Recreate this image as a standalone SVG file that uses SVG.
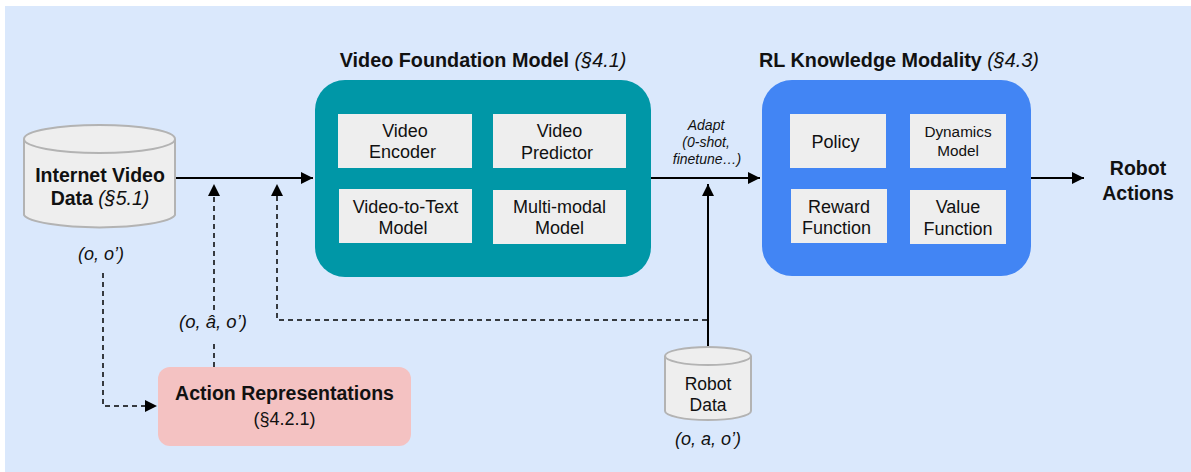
<svg xmlns="http://www.w3.org/2000/svg" width="1191" height="472" viewBox="0 0 1191 472">
  <style>
    .t { font-family: "Liberation Sans", Arial, sans-serif; fill: #111; }
    .b { font-weight: bold; }
    .i { font-style: italic; }
    .inner { fill: #eeeeee; }
    .cyl { fill: #eeeeee; stroke: #b3b3b3; stroke-width: 2; }
    .solid { fill: none; stroke: #000; stroke-width: 2; }
    .dash { fill: none; stroke: #000; stroke-width: 1.5; stroke-dasharray: 5 4; }
  </style>
  <defs>
    <marker id="arrowL" viewBox="0 0 10 10" refX="10" refY="5" markerWidth="12" markerHeight="12" markerUnits="userSpaceOnUse" orient="auto">
      <path d="M0,0 L10,5 L0,10 z" fill="#000"/>
    </marker>
  </defs>

  <rect x="5" y="6" width="1186" height="466" fill="#dae8fc"/>

  <!-- connectors -->
  <g id="connectors">
    <line class="solid" x1="175" y1="178" x2="313" y2="178" marker-end="url(#arrowL)"/>
    <line class="solid" x1="651" y1="178" x2="760" y2="178" marker-end="url(#arrowL)"/>
    <line class="solid" x1="1031" y1="178" x2="1084" y2="178" marker-end="url(#arrowL)"/>
    <line class="solid" x1="708" y1="346" x2="708" y2="184" marker-end="url(#arrowL)"/>
    <line class="dash" x1="214" y1="367" x2="214" y2="342"/>
    <line class="dash" x1="214" y1="310" x2="214" y2="184" marker-end="url(#arrowL)"/>
    <polyline class="dash" points="707,320 277,320 277,184" marker-end="url(#arrowL)"/>
    <polyline class="dash" points="103,273 103,406 157,406" marker-end="url(#arrowL)"/>
  </g>

  <!-- Internet video data -->
  <g id="internet-video">
    <path class="cyl" d="M24,139 L24,215 A76,14 0 0 0 175,215 L175,139"/>
    <ellipse class="cyl" cx="99.5" cy="139" rx="75.5" ry="14"/>
    <text class="t b" x="100" y="182" font-size="19.5" text-anchor="middle">Internet Video</text>
    <text class="t" x="100" y="205" font-size="19.5" text-anchor="middle"><tspan class="b">Data </tspan><tspan class="i">(§5.1)</tspan></text>
    <text class="t i" x="101" y="260" font-size="18" text-anchor="middle">(o, o’)</text>
  </g>

  <!-- Video foundation model -->
  <g id="video-foundation-model">
    <text class="t" x="483" y="67" font-size="19.8" text-anchor="middle"><tspan class="b">Video Foundation Model </tspan><tspan class="i">(§4.1)</tspan></text>
    <rect x="315" y="80" width="336" height="197" rx="30" fill="#0097a7"/>
    <rect class="inner" x="338" y="114" width="134" height="54"/>
    <rect class="inner" x="493" y="114" width="133" height="54"/>
    <rect class="inner" x="339" y="189" width="133" height="54"/>
    <rect class="inner" x="493" y="190" width="133" height="54"/>
    <text class="t" font-size="18" text-anchor="middle">
      <tspan x="405" y="137">Video</tspan><tspan x="405" y="158">Encoder</tspan>
      <tspan x="559.5" y="137">Video</tspan><tspan x="559.5" y="159">Predictor</tspan>
      <tspan x="405.5" y="213">Video-to-Text</tspan><tspan x="405.5" y="234">Model</tspan>
      <tspan x="559.5" y="213">Multi-modal</tspan><tspan x="559.5" y="234">Model</tspan>
    </text>
  </g>

  <!-- Adapt label -->
  <g id="adapt-label">
    <text class="t i" font-size="14" text-anchor="middle">
      <tspan x="708" y="130">Adapt</tspan>
      <tspan x="708" y="147">(0-shot,</tspan>
      <tspan x="707" y="164">finetune…)</tspan>
    </text>
  </g>

  <!-- RL knowledge modality -->
  <g id="rl-knowledge-modality">
    <text class="t" x="899" y="67" font-size="19.8" text-anchor="middle"><tspan class="b">RL Knowledge Modality </tspan><tspan class="i">(§4.3)</tspan></text>
    <rect x="762" y="80" width="269" height="196" rx="30" fill="#4285f4"/>
    <rect class="inner" x="790" y="114" width="96" height="54"/>
    <rect class="inner" x="910" y="114" width="96" height="54"/>
    <rect class="inner" x="791" y="189" width="96" height="54"/>
    <rect class="inner" x="910" y="190" width="96" height="54"/>
    <text class="t" font-size="18" text-anchor="middle">
      <tspan x="838" y="148">Policy</tspan>
      <tspan x="839" y="213">Reward</tspan><tspan x="839" y="234">Function</tspan>
      <tspan x="958" y="213">Value</tspan><tspan x="958" y="235">Function</tspan>
    </text>
    <text class="t" font-size="15.3" text-anchor="middle">
      <tspan x="958" y="137">Dynamics</tspan><tspan x="958" y="156">Model</tspan>
    </text>
  </g>

  <!-- Robot actions -->
  <g id="robot-actions">
    <text class="t b" font-size="19.5" text-anchor="middle">
      <tspan x="1138" y="175">Robot</tspan><tspan x="1138" y="200">Actions</tspan>
    </text>
  </g>

  <!-- Action representations -->
  <g id="action-representations">
    <text class="t i" x="213" y="328" font-size="18.5" text-anchor="middle">(o, â, o’)</text>
    <rect x="158" y="367" width="253" height="79" rx="12" fill="#f4c2c2"/>
    <text class="t b" x="284.5" y="400" font-size="19.5" text-anchor="middle">Action Representations</text>
    <text class="t" x="284.5" y="425" font-size="18" text-anchor="middle">(§4.2.1)</text>
  </g>

  <!-- Robot data -->
  <g id="robot-data">
    <path class="cyl" d="M665,356 L665,411 A43,9 0 0 0 751,411 L751,356"/>
    <ellipse class="cyl" cx="708" cy="356" rx="43" ry="9"/>
    <text class="t" font-size="17.5" text-anchor="middle">
      <tspan x="708" y="390">Robot</tspan><tspan x="708" y="411">Data</tspan>
    </text>
    <text class="t i" x="708" y="445" font-size="18" text-anchor="middle">(o, a, o’)</text>
  </g>
</svg>
